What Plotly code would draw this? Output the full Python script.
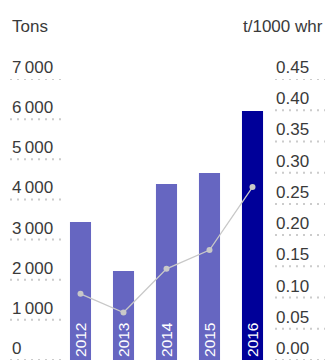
import plotly.graph_objects as go

years = ["2012", "2013", "2014", "2015", "2016"]
tons = [3440, 2215, 4385, 4660, 6205]
rate = [0.106, 0.076, 0.146, 0.176, 0.277]
bar_colors = ["#6666c1", "#6666c1", "#6666c1", "#6666c1", "#000099"]
left_ticks = [0, 1000, 2000, 3000, 4000, 5000, 6000, 7000]
left_labels = ["0", "1\u2009000", "2\u2009000", "3\u2009000", "4\u2009000", "5\u2009000", "6\u2009000", "7\u2009000"]
right_ticks = [0.0, 0.05, 0.10, 0.15, 0.20, 0.25, 0.30, 0.35, 0.40, 0.45]
right_labels = ["0.00", "0.05", "0.10", "0.15", "0.20", "0.25", "0.30", "0.35", "0.40", "0.45"]

W, H = 325, 362
ML, MR, MT, MB = 59, 51, 79, 2
PW = W - ML - MR
PH = H - MT - MB

def px_x(p):
    return (p - ML) / PW

def px_y(p):
    return (H - MB - p) / PH

FONT = "Liberation Sans, Arial, sans-serif"
TXT = "#3a3a3a"

fig = go.Figure()
fig.add_trace(go.Bar(x=years, y=tons, marker=dict(color=bar_colors, line=dict(width=0)),
                     width=0.49, hoverinfo="skip",
                     text=years, textposition="inside", insidetextanchor="start",
                     textangle=-90, textfont=dict(family=FONT, size=15.5, color="white")))
fig.add_trace(go.Scatter(x=years, y=rate, yaxis="y2", mode="lines+markers",
                         line=dict(color="#c8c8c8", width=1.3),
                         marker=dict(color="#c8c8c8", size=6), hoverinfo="skip"))

shapes = []
annotations = []
for v, lab in zip(left_ticks, left_labels):
    shapes.append(dict(type="line", xref="paper", yref="y", x0=px_x(10), x1=px_x(61), y0=v, y1=v,
                       line=dict(color="#cccccc", width=2, dash="2px,5px")))
    annotations.append(dict(text=lab, xref="paper", yref="y", x=px_x(10), y=v, xanchor="left",
                            yanchor="bottom", showarrow=False, yshift=0,
                            font=dict(family=FONT, size=17, color=TXT)))
for v, lab in zip(right_ticks, right_labels):
    shapes.append(dict(type="line", xref="paper", yref="y2", x0=px_x(275), x1=px_x(326), y0=v, y1=v,
                       line=dict(color="#cccccc", width=2, dash="2px,5px")))
    annotations.append(dict(text=lab, xref="paper", yref="y2", x=px_x(274), y=v, xanchor="left",
                            yanchor="bottom", showarrow=False, yshift=0,
                            font=dict(family=FONT, size=17, color=TXT)))
annotations.append(dict(text="Tons", xref="paper", yref="paper", x=px_x(10), y=px_y(26),
                        xanchor="left", yanchor="middle", showarrow=False,
                        font=dict(family=FONT, size=17, color=TXT)))
annotations.append(dict(text="t/1000 whr", xref="paper", yref="paper", x=px_x(325), y=px_y(26),
                        xanchor="right", yanchor="middle", showarrow=False,
                        font=dict(family=FONT, size=17, color=TXT)))

fig.update_layout(
    width=W, height=H,
    margin=dict(l=ML, r=MR, t=MT, b=MB),
    paper_bgcolor="white", plot_bgcolor="white",
    showlegend=False,
    uniformtext=dict(minsize=15, mode="show"),
    xaxis=dict(visible=False, range=[-0.5, 4.5], type="category"),
    yaxis=dict(visible=False, range=[0, 7000]),
    yaxis2=dict(visible=False, range=[0, 0.45], overlaying="y"),
    shapes=shapes, annotations=annotations,
)
fig.write_html("out.html")
